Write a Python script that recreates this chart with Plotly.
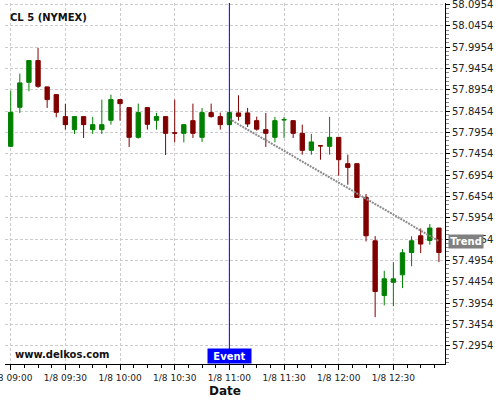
import plotly.graph_objects as go

day = "2024-01-08"
times = ["09:00", "09:05", "09:10", "09:15", "09:20", "09:25", "09:30", "09:35",
         "09:40", "09:45", "09:50", "09:55", "10:00", "10:05", "10:10", "10:15",
         "10:20", "10:25", "10:30", "10:35", "10:40", "10:45", "10:50", "10:55",
         "11:00", "11:05", "11:10", "11:15", "11:20", "11:25", "11:30", "11:35",
         "11:40", "11:45", "11:50", "11:55", "12:00", "12:05", "12:10", "12:15",
         "12:20", "12:25", "12:30", "12:35", "12:40", "12:45", "12:50", "12:55"]

open_ = [57.7628, 57.8543, 57.9130, 57.9640, 57.9022, 57.8841, 57.8325, 57.8020,
         57.8325, 57.8020, 57.8020, 57.8238, 57.8724, 57.8536, 57.7839, 57.8536,
         57.8238, 57.8325, 57.7944, 57.7933, 57.8231, 57.7839, 57.8419, 57.8325,
         57.8137, 57.8412, 57.8412, 57.8231, 57.8020, 57.7839, 57.8247, 57.8231,
         57.7933, 57.7534, 57.7644, 57.7628, 57.7839, 57.7222, 57.7222, 57.6431,
         57.5414, 57.4130, 57.4440, 57.4616, 57.5140, 57.5531, 57.5421, 57.5712]
high = [57.8935, 57.9334, 57.9650, 57.9938, 57.9030, 57.8850, 57.8623, 57.8330,
        57.8330, 57.8318, 57.8724, 57.8841, 57.8730, 57.8540, 57.8630, 57.8540,
        57.8412, 57.8330, 57.8724, 57.8140, 57.8630, 57.8529, 57.8630, 57.8419,
        57.8425, 57.8825, 57.8529, 57.8325, 57.8412, 57.8318, 57.8318, 57.8235,
        57.8137, 57.7919, 57.7648, 57.8318, 57.7845, 57.7433, 57.7225, 57.6510,
        57.5524, 57.4710, 57.4914, 57.5219, 57.5520, 57.5703, 57.5806, 57.5720]
low = [57.7613, 57.8412, 57.8919, 57.9000, 57.8529, 57.8308, 57.8020, 57.7919,
       57.7825, 57.7919, 57.7919, 57.8137, 57.8231, 57.7614, 57.7808, 57.8020,
       57.8020, 57.7426, 57.7722, 57.7722, 57.7825, 57.7731, 57.8301, 57.8020,
       57.8130, 57.8231, 57.8083, 57.7996, 57.7614, 57.7722, 57.7825, 57.7825,
       57.7433, 57.7433, 57.7315, 57.7433, 57.6940, 57.6729, 57.6425, 57.5398,
       57.3623, 57.3900, 57.3879, 57.4304, 57.4815, 57.5125, 57.5320, 57.4914]
close = [57.8426, 57.9116, 57.9640, 57.9036, 57.8724, 57.8426, 57.8137, 57.8325,
         57.8137, 57.8137, 57.8137, 57.8724, 57.8630, 57.7839, 57.8419, 57.8144,
         57.8325, 57.7933, 57.7938, 57.8137, 57.7933, 57.8419, 57.8325, 57.8137,
         57.8419, 57.8332, 57.8153, 57.8031, 57.7933, 57.8231, 57.8254, 57.7933,
         57.7534, 57.7731, 57.7638, 57.7839, 57.7315, 57.7135, 57.6431, 57.5531,
         57.4224, 57.4522, 57.4522, 57.5132, 57.5414, 57.5337, 57.5712, 57.5140]

x_times = [f"{day} {t}" for t in times]

event_time = "11:00"
trend_times = ["11:00", "12:55"]
trend_values = [57.8270, 57.5405]

xtick_times = ["09:00", "09:30", "10:00", "10:30", "11:00", "11:30", "12:00", "12:30"]
xtick_text = ["1/8 " + t for t in xtick_times]
ytick_vals = [57.2954, 57.3454, 57.3954, 57.4454, 57.4954, 57.5454, 57.5954, 57.6454,
              57.6954, 57.7454, 57.7954, 57.8454, 57.8954, 57.9454, 57.9954, 58.0454, 58.0954]
ytick_text = [f"{v:.4f}" for v in ytick_vals]

FONT = "DejaVu Sans"

fig = go.Figure()

fig.add_trace(go.Scatter(
    x=[f"{day} {t}" for t in trend_times], y=trend_values, mode="lines",
    line=dict(color="#8c8c8c", width=2, dash="2px,1px"), hoverinfo="skip",
    showlegend=False))

fig.add_trace(go.Candlestick(
    x=x_times, open=open_, high=high, low=low, close=close,
    increasing=dict(line=dict(color="#008000", width=1), fillcolor="#008000"),
    decreasing=dict(line=dict(color="#800000", width=1), fillcolor="#800000"),
    whiskerwidth=0, showlegend=False))

fig.add_shape(type="line", xref="x", yref="paper",
              x0=f"{day} {event_time}", x1=f"{day} {event_time}", y0=0, y1=1,
              line=dict(color="#0000ff", width=1))

fig.update_layout(
    template="none",
    width=500, height=400,
    margin=dict(l=5, r=55, t=3, b=36, pad=0, autoexpand=False),
    paper_bgcolor="white", plot_bgcolor="white",
    font=dict(family=FONT, size=10, color="#222"),
    boxgap=0.32,
    showlegend=False,
    xaxis=dict(
        type="date", automargin=False,
        range=[f"{day} 08:56:52", f"{day} 12:58:20"],
        rangeslider=dict(visible=False),
        tickmode="array", tickvals=[f"{day} {t}" for t in xtick_times], ticktext=xtick_text,
        ticklabeloverflow="allow",
        ticks="outside", ticklen=5, tickcolor="black", tickwidth=1,
        tickfont=dict(family=FONT, size=9, color="#222"),
        showline=True, linecolor="black", linewidth=1, mirror=False,
        showgrid=True, gridcolor="#cccccc", griddash="3px,2px", gridwidth=1,
        zeroline=False,
        minor=dict(tickmode="linear", tick0=f"{day} 09:00", dtick=450000,
                   ticks="outside", ticklen=3, tickcolor="black", showgrid=False),
    ),
    yaxis=dict(
        side="right", automargin=False,
        range=[57.2525, 58.0989],
        tickmode="array", tickvals=ytick_vals, ticktext=ytick_text,
        ticklabeloverflow="allow",
        ticks="outside", ticklen=4, tickcolor="black",
        tickfont=dict(family=FONT, size=10, color="#222"),
        showline=True, linecolor="black", linewidth=1,
        showgrid=True, gridcolor="#cccccc", griddash="3px,2px", gridwidth=1,
        zeroline=False,
        minor=dict(tickmode="linear", tick0=57.2954, dtick=0.01,
                   ticks="outside", ticklen=3, tickcolor="#888", showgrid=False),
    ),
    annotations=[
        dict(text="<b>CL 5 (NYMEX)</b>", xref="paper", yref="paper", x=0, y=1,
             xanchor="left", yanchor="top", xshift=3, yshift=-7, showarrow=False,
             font=dict(family=FONT, size=10, color="#111")),
        dict(text="<b>www.delkos.com</b>", xref="paper", yref="paper", x=0, y=0,
             xanchor="left", yanchor="bottom", xshift=8, yshift=2, showarrow=False,
             font=dict(family=FONT, size=10, color="#111")),
        dict(text="<b>Event</b>", xref="x", yref="paper", x=f"{day} {event_time}", y=0,
             xanchor="center", yanchor="bottom", showarrow=False, bgcolor="#0000ff",
             width=41, height=12, borderpad=1,
             font=dict(family=FONT, size=10, color="white")),
        dict(text="<b>Trend</b>", xref="paper", yref="y", x=1, y=trend_values[-1],
             xanchor="left", yanchor="middle", xshift=3, showarrow=False, bgcolor="#808080",
             width=32, height=11, borderpad=1,
             font=dict(family=FONT, size=10, color="white")),
        dict(text="<b>Date</b>", xref="paper", yref="paper", x=0.5, y=0,
             xanchor="center", yanchor="top", yshift=-18, showarrow=False,
             font=dict(family=FONT, size=12, color="#111")),
    ],
)

fig.write_html("out.html", config={"displayModeBar": False},
               post_script="document.body.style.margin='0';document.body.style.padding='0';")
